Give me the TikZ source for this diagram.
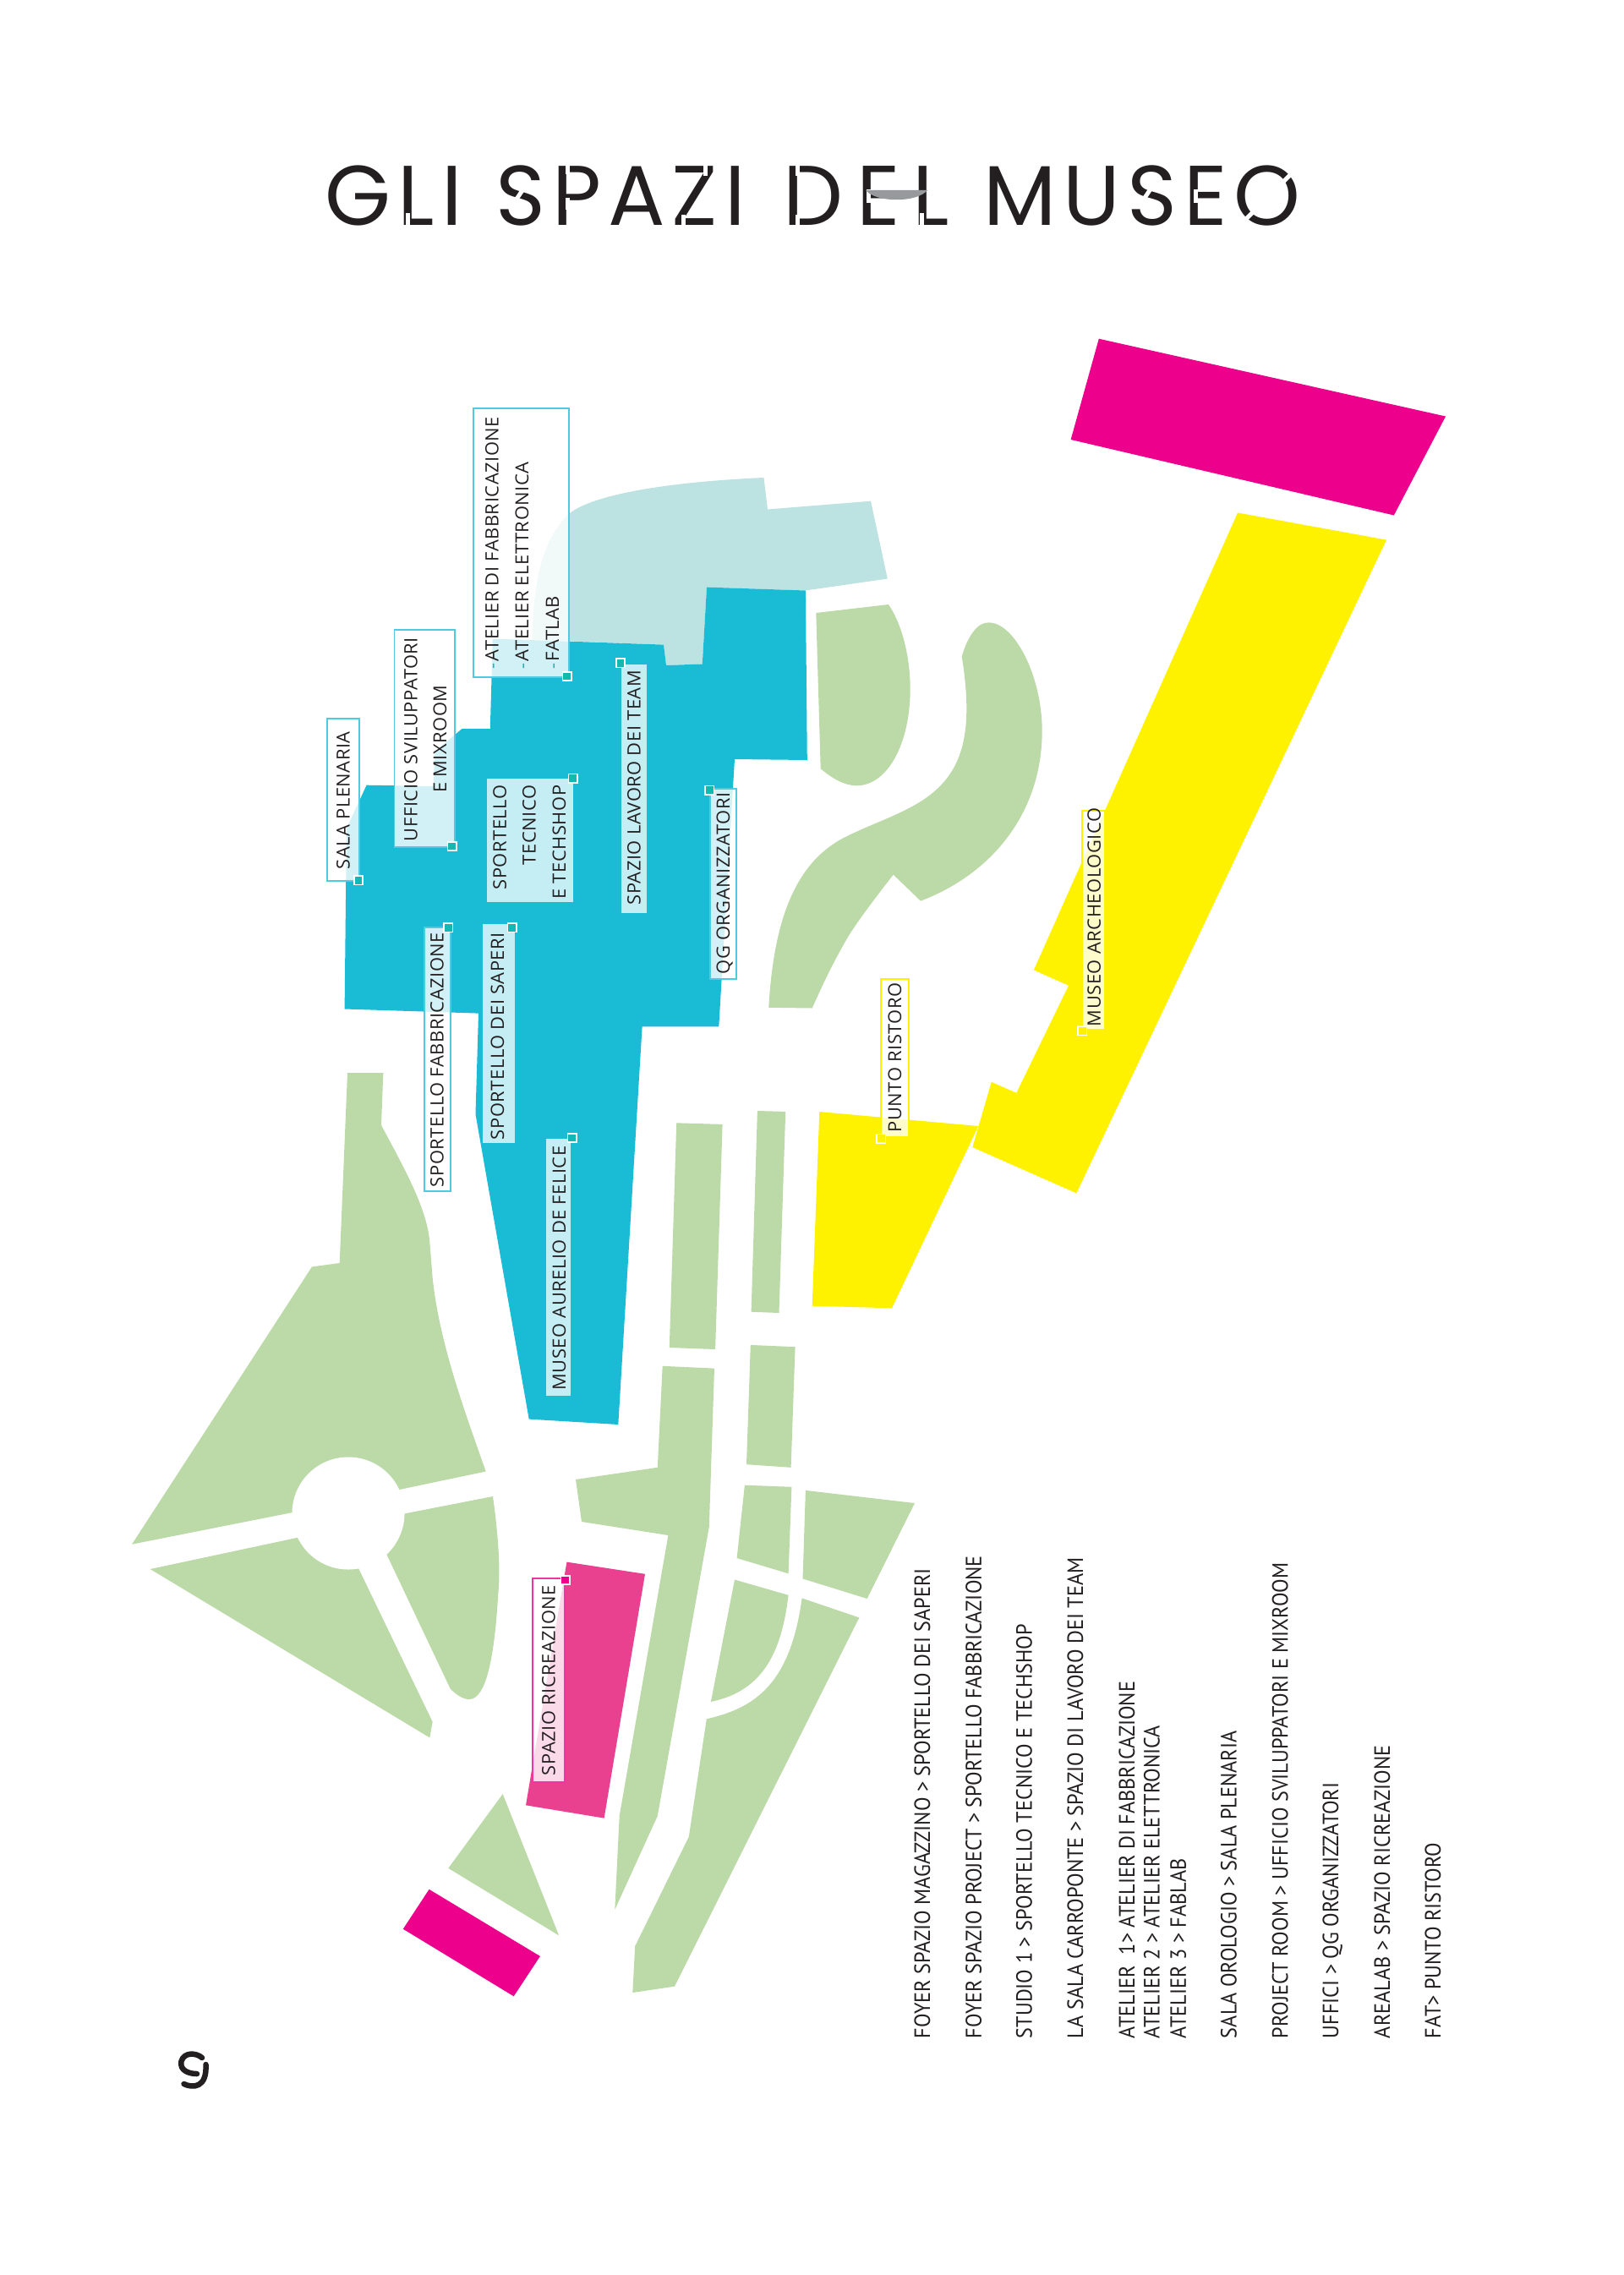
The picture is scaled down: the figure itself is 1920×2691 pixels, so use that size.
\documentclass[tikz,border=0pt]{standalone}
\usepackage{fontspec}
\setmainfont{Open Sans}
\newfontfamily\labfont[LetterSpace=2.5,FakeStretch=1.02]{Open Sans}
\newfontfamily\listfont[FakeStretch=0.925]{PT Sans}
\newfontfamily\titlefont[LetterSpace=8]{Poppins}
\definecolor{ink}{HTML}{231F20}
\definecolor{grass}{HTML}{BCDAA7}
\definecolor{sky}{HTML}{1ABBD4}
\definecolor{skyline}{HTML}{4ECBE0}
\definecolor{pale}{HTML}{BCE3E1}
\definecolor{sun}{HTML}{FFF200}
\definecolor{magenta1}{HTML}{EC008C}
\definecolor{rose}{HTML}{E9418F}
\definecolor{roseline}{HTML}{F035A0}
\definecolor{tealdot}{HTML}{14B8B0}
\definecolor{lens}{HTML}{97999C}
\tikzset{
  lab/.style={rotate=90,anchor=base west,inner sep=0pt,outer sep=0pt,font=\labfont\fontsize{6.1}{7}\selectfont,text=ink},
  labr/.style={lab,anchor=base east},
  lst/.style={rotate=90,anchor=base west,inner sep=0pt,outer sep=0pt,font=\listfont\fontsize{7.45}{9}\selectfont,text=ink},
  boxb/.style={draw=skyline,line width=.55pt,fill=white,fill opacity=.8},
  boxd/.style={fill=white,fill opacity=.75},
  boxy/.style={draw=sun,line width=.55pt,fill=white,fill opacity=.8},
  boxp/.style={draw=roseline,line width=.55pt,fill=white,fill opacity=.8},
  handle/.style={rectangle,draw=white,line width=.45pt,minimum size=.105cm,inner sep=0pt,outer sep=0pt},
  ht/.style={handle,fill=tealdot},
  hy/.style={handle,fill=sun},
  hp/.style={handle,fill=magenta1},
  cut/.style={draw=white,line width=.05cm},
}
\newcommand{\tdash}{\textcolor{tealdot}{-}\hspace{.5pt}}
\begin{document}
\begin{tikzpicture}[x=.01cm,y=-.01cm]
\useasboundingbox (0,0) rectangle (1920,2691);
% greens
\fill[grass] (965.3,725) -- (1051,715) .. controls (1068,740) and (1077,780) .. (1076.7,817.5) .. controls (1076,880) and (1050,929) .. (1013.3,929.3) .. controls (998,929) and (985,921) .. (970.7,909.3) -- cycle;
\fill[grass] (909.3,1191.8) -- (960.7,1192.5) .. controls (975,1160) and (990,1130) .. (1005,1105) .. controls (1020,1082) and (1040,1056) .. (1056.7,1034.6) -- (1089,1065.7) .. controls (1170,1035) and (1232,965) .. (1232.7,865.7) .. controls (1233,800) and (1200,736) .. (1169.3,736.4) .. controls (1155,736) and (1144,755) .. (1137.7,776.4) .. controls (1143,810) and (1146,845) .. (1140,875) .. controls (1125,950) and (1060,960) .. (1000,990) .. controls (940,1020) and (915,1090) .. (909.3,1191.8) -- cycle;
\fill[grass] (411,1269) -- (453.3,1269) -- (451,1331) .. controls (480,1385) and (505,1430) .. (508.3,1469) -- (511.7,1511.7) .. controls (520,1590) and (550,1670) .. (574.7,1740.5) -- (472.3,1762) -- (345,1789.2) -- (156,1826.7) -- (369,1498.4) -- (401.7,1494) -- cycle;
\fill[grass] (177.7,1856) -- (352.3,1818.7) -- (423.3,1853.5) -- (511.7,2036.7) -- (508.3,2055.4) -- cycle;
\fill[grass] (479,1790.3) -- (583,1770) .. controls (590,1820) and (592,1860) .. (589.3,1885) .. controls (585,1960) and (575,2010) .. (555,2010) .. controls (548,2010) and (540,2005) .. (532.7,1997.6) -- (457.3,1838.5) -- cycle;
\fill[white] (412,1790) circle (66.5);
\fill[grass] (594.7,2122) -- (661.2,2289.4) -- (530.3,2209.8) -- cycle;
\fill[grass] (681,1750) -- (777.8,1735.8) -- (783.7,1615.8) -- (845,1618.6) -- (838.8,1806) -- (777.8,2148) -- (727.3,2258.8) -- (732.7,2148) -- (790.4,1816) -- (688,1800) -- cycle;
\fill[grass] (887.8,1590.9) -- (940.6,1593.2) -- (935.6,1735.8) -- (883,1732.2) -- cycle;
\fill[grass] (800.2,1328.3) -- (854.6,1329.9) -- (846.1,1596) -- (791.8,1594) -- cycle;
\fill[grass] (895.9,1314) -- (929.2,1314.9) -- (921.5,1553) -- (888.6,1551.7) -- cycle;
\fill[grass] (880.9,1756.7) -- (936.4,1758.8) -- (932.6,1861.3) -- (871.6,1843) -- cycle;
\fill[grass] (952.9,1762.9) -- (1082,1778) -- (1025.7,1891) -- (949.5,1867.4) -- cycle;
\fill[grass] (869,1868.5) -- (932.6,1886.8) .. controls (925,1950) and (905,2000) .. (840.9,2012.9) -- cycle;
\fill[grass] (948.6,1890.4) -- (1016.4,1913.4) -- (798,2349.6) -- (748.3,2357) -- (751.2,2302) -- (814.8,2172.6) -- (835.8,2033.3) .. controls (895,2020) and (935,1990) .. (948.6,1890.4) -- cycle;
% teal and blue
\fill[pale] (629.5,756.7) .. controls (631,690) and (640,640) .. (672.8,608) .. controls (700,585) and (790,570) .. (903.5,565) -- (908,602.5) -- (1030,592.7) -- (1049.8,684.5) -- (953,698.5) -- (836,694.6) -- (830.8,785.5) -- (788,787) -- (785,762.6) -- cycle;
\fill[sky] (433.6,928.7) -- (409.9,980) -- (407.6,1193.5) -- (566,1198.6) -- (562.5,1318) -- (625.7,1678.6) -- (731.3,1685) -- (759.6,1214.4) -- (850.3,1214.4) -- (869,898) -- (954.8,899) -- (952.9,698.5) -- (836,694.6) -- (830.8,785.5) -- (788,787) -- (785,762.6) -- (582.8,755.5) -- (579.8,862) -- (546.5,862) -- (514,889) -- (513,930) -- cycle;
% yellows, pinks
\fill[sun] (969.3,1315) -- (1157.3,1332) -- (1055,1547.3) -- (960.7,1544.7) -- cycle;
\fill[sun] (1464,606.5) -- (1640,638.6) -- (1273.3,1411.4) -- (1150.3,1357) -- (1172.8,1279.8) -- (1202.3,1292.8) -- (1264,1165.8) -- (1222.8,1147.4) -- cycle;
\fill[magenta1] (1299.8,400.7) -- (1710,492.5) -- (1648.8,609.5) -- (1266.6,520) -- cycle;
\fill[rose] (670.4,1847.6) -- (763,1861.8) -- (714.6,2150.6) -- (622,2135.3) -- cycle;
\fill[magenta1] (507.6,2234.8) -- (638.9,2313.9) -- (607.7,2361.3) -- (476.8,2281.7) -- cycle;
% title
\node[inner sep=0pt,anchor=base west,font=\titlefont\fontsize{28.5}{30}\selectfont,text=ink] (title) at (384,267) {GLI \hspace{1.4pt}SPAZI \hspace{2.9pt}D\hspace{4.4pt}E\hspace{4.4pt}L \hspace{1.5pt}MUSEO};
% stencil cuts in the title lettering
\draw[cut] (482,252) -- (482,272);
\draw[cut] (620,222) -- (608,240);
\draw[cut] (671,192) -- (671,206);
\draw[cut] (671,234) -- (671,248);
\draw[cut] (834,192) -- (834,208);
\draw[cut] (808,254) -- (808,272);
\draw[cut] (943,192) -- (943,208);
\draw[cut] (943,254) -- (943,272);
\draw[cut] (1027,224) -- (1027,240);
\draw[cut] (1090,252) -- (1090,272);
\draw[cut] (1362,222) -- (1350,240);
\draw[cut] (1414,224) -- (1414,240);
\draw[cut] (1515,218) -- (1537,196);
\draw[cut] (1485,248) -- (1463,270);
\fill[lens] (1024,225) -- (1097,225) .. controls (1085,240) and (1036,240) .. (1024,225) -- cycle;
% logo
\draw[ink,line width=.065cm,line cap=round] (239,2434) .. controls (232,2428) and (218,2427) .. (214.5,2438) .. controls (212,2450) and (225,2453) .. (233,2453);
\draw[ink,line width=.065cm,line cap=round] (217.5,2465) .. controls (228,2470) and (245,2470) .. (243.5,2442);
% label boxes
\path[boxb] (559.9,482.7) rectangle (672.8,801.4);
\path[boxb] (466.5,744.8) rectangle (538,1001.8);
\path[boxb] (386.9,850.4) rectangle (424.8,1041.8);
\path[boxd] (576.3,920.8) rectangle (677.7,1067);
\path[boxd] (735,785.5) rectangle (764.6,1080);
\path[boxb] (840.4,932.6) rectangle (871,1157.9);
\path[boxb] (501.7,1096.6) rectangle (532.7,1409);
\path[boxd] (571.4,1093) rectangle (608.5,1352.4);
\path[boxd] (646,1347) rectangle (674.7,1651.4);
\path[boxp] (630,1867) rectangle (667.7,2108);
\path[boxy] (1279.9,959.2) rectangle (1307,1217.8);
\path[boxy] (1042.3,1158.3) rectangle (1075,1345);
% handles
\node[ht] (h1) at (670.9,800) {};
\node[ht] (h2) at (534.6,1001) {};
\node[ht] (h3) at (424,1041.4) {};
\node[ht] (h4) at (677.7,920.8) {};
\node[ht] (h5) at (734,784.3) {};
\node[ht] (h6) at (839.2,934.6) {};
\node[ht] (h7) at (530.4,1097.4) {};
\node[ht] (h8) at (605.8,1097.4) {};
\node[ht] (h9) at (676.6,1346) {};
\node[hp] (h10) at (668.7,1869) {};
\node[hy] (h11) at (1280.4,1219.3) {};
\node[hy] (h12) at (1042.3,1346.7) {};
% label texts
\node[lab] (a1) at (589.7,791) {\tdash ATELIER DI FABBRICAZIONE};
\node[lab] (a2) at (625,791) {\tdash ATELIER ELETTRONICA};
\node[lab] (a3) at (661,791) {\tdash FATLAB};
\node[lab] (u1) at (493.7,995) {UFFICIO SVILUPPATORI};
\node[lab] (u2) at (528,937.8) {E MIXROOM};
\node[lab] (sp) at (413.7,1028.3) {SALA PLENARIA};
\node[labr] (t1) at (598.9,928.7) {SPORTELLO};
\node[labr] (t2) at (633.7,928.7) {TECNICO};
\node[labr] (t3) at (669,928.7) {E TECHSHOP};
\node[lab] (lt) at (757.7,1070.2) {SPAZIO LAVORO DEI TEAM};
\node[lab] (qg) at (863,1152.4) {QG ORGANIZZATORI};
\node[lab] (sf) at (524.7,1404) {SPORTELLO FABBRICAZIONE};
\node[lab] (ss) at (596.2,1348) {SPORTELLO DEI SAPERI};
\node[lab] (mf) at (669,1644.6) {MUSEO AURELIO DE FELICE};
\node[lab] (sr) at (656.7,2100) {SPAZIO RICREAZIONE};
\node[lab] (ma) at (1301.8,1214) {MUSEO ARCHEOLOGICO};
\node[lab] (pr) at (1066,1339.3) {PUNTO RISTORO};
% list
\node[lst] (l1) at (1100.2,2411) {FOYER SPAZIO MAGAZZINO > SPORTELLO DEI SAPERI};
\node[lst] (l2) at (1160.9,2411) {FOYER SPAZIO PROJECT > SPORTELLO FABBRICAZIONE};
\node[lst] (l3) at (1220.7,2411) {STUDIO 1 > SPORTELLO TECNICO E TECHSHOP};
\node[lst] (l4) at (1281,2411) {LA SALA CARROPONTE > SPAZIO DI LAVORO DEI TEAM};
\node[lst] (l5a) at (1342,2411) {ATELIER\ \ 1> ATELIER DI FABBRICAZIONE};
\node[lst] (l5b) at (1371.6,2411) {ATELIER 2 > ATELIER ELETTRONICA};
\node[lst] (l5c) at (1402.9,2411) {ATELIER 3 > FABLAB};
\node[lst] (l6) at (1462.7,2411) {SALA OROLOGIO > SALA PLENARIA};
\node[lst] (l7) at (1523.4,2411) {PROJECT ROOM > UFFICIO SVILUPPATORI E MIXROOM};
\node[lst] (l8) at (1583,2411) {UFFICI > QG ORGANIZZATORI};
\node[lst] (l9) at (1644,2411) {AREALAB > SPAZIO RICREAZIONE};
\node[lst] (l10) at (1704,2411) {FAT> PUNTO RISTORO};
\end{tikzpicture}
\end{document}
